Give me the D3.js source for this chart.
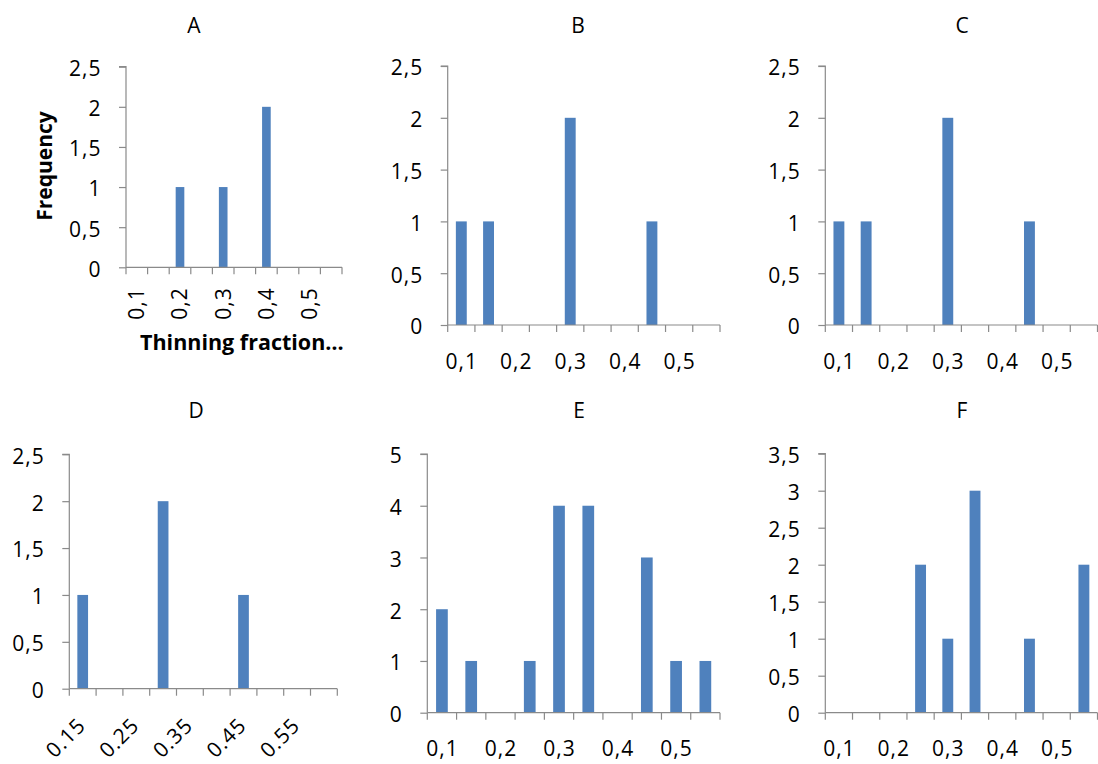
<!DOCTYPE html>
<html>
<head>
<meta charset="utf-8">
<script src="https://cdn.jsdelivr.net/npm/d3@7"></script>
<style>
  html, body { margin: 0; padding: 0; background: #fff; }
  svg { display: block; }
  text { font-family: "Open Sans", "Noto Sans", sans-serif; fill: #000; }
</style>
</head>
<body>
<svg id="chart" width="1098" height="764"></svg>
<script>
// ---------------- data ----------------
const titles = ["A", "B", "C", "D", "E", "F"];
const categoriesComma = ["0,1", "0,15", "0,2", "0,25", "0,3", "0,35", "0,4", "0,45", "0,5", "0,55"];
const categoriesDot = ["0.15", "0.2", "0.25", "0.3", "0.35", "0.4", "0.45", "0.5", "0.55", "0.6"];
const freqA = [0, 0, 1, 0, 1, 0, 2, 0, 0, 0];
const freqB = [1, 1, 0, 0, 2, 0, 0, 1, 0, 0];
const freqC = [1, 1, 0, 0, 2, 0, 0, 1, 0, 0];
const freqD = [1, 0, 0, 2, 0, 0, 1, 0, 0, 0];
const freqE = [2, 1, 0, 1, 4, 4, 0, 3, 1, 1];
const freqF = [0, 0, 0, 2, 1, 3, 0, 1, 0, 2];
const yTicksHalf25 = [0, 0.5, 1, 1.5, 2, 2.5];
const yTicksE = [0, 1, 2, 3, 4, 5];
const yTicksF = [0, 0.5, 1, 1.5, 2, 2.5, 3, 3.5];
const yAxisTitle = "Frequency";
const xAxisTitle = "Thinning fraction\u2026";

// ---------------- layout ----------------
const panels = [
  { title: titles[0], cats: categoriesComma, vals: freqA, yTicks: yTicksHalf25, x0: 126, x1: 342, yB: 267.3, yT: 66.7, tx: 194, ty: 33, lab: "v" },
  { title: titles[1], cats: categoriesComma, vals: freqB, yTicks: yTicksHalf25, x0: 447.7, x1: 720, yB: 325, yT: 66, tx: 578, ty: 33, lab: "h" },
  { title: titles[2], cats: categoriesComma, vals: freqC, yTicks: yTicksHalf25, x0: 825.3, x1: 1097.5, yB: 325, yT: 66, tx: 962, ty: 33, lab: "h" },
  { title: titles[3], cats: categoriesDot, vals: freqD, yTicks: yTicksHalf25, x0: 69.3, x1: 337.3, yB: 688.7, yT: 454.3, tx: 196, ty: 418, lab: "d" },
  { title: titles[4], cats: categoriesComma, vals: freqE, yTicks: yTicksE, x0: 427.3, x1: 720, yB: 712.7, yT: 454, tx: 579, ty: 418, lab: "h" },
  { title: titles[5], cats: categoriesComma, vals: freqF, yTicks: yTicksF, x0: 825.3, x1: 1097.5, yB: 712.7, yT: 453.7, tx: 962, ty: 418, lab: "h" }
];

const svg = d3.select("#chart");
svg.append("rect").attr("width", 1098).attr("height", 764).attr("fill", "#fff");

const axisColor = "#8a8a8a";
const barColor = "#4F81BD";
const fmt = v => String(v).replace(".", ",");
const labelSize = "21px";

panels.forEach(p => {
  const g = svg.append("g");
  const x = d3.scaleBand().domain(p.cats).range([p.x0, p.x1]).paddingInner(0.6).paddingOuter(0.3);
  const yMax = p.yTicks[p.yTicks.length - 1];
  const y = d3.scaleLinear().domain([0, yMax]).range([p.yB, p.yT]);
  const step = x.step();

  // title
  g.append("text").attr("x", p.tx).attr("y", p.ty).attr("text-anchor", "middle")
    .style("font-size", "21px").text(p.title);

  // bars
  g.selectAll("rect.bar").data(p.cats.map((c, i) => ({ c, v: p.vals[i] })).filter(d => d.v > 0))
    .enter().append("rect").attr("class", "bar")
    .attr("x", d => x(d.c)).attr("width", x.bandwidth())
    .attr("y", d => y(d.v)).attr("height", d => y(0) - y(d.v))
    .attr("fill", barColor);

  // y axis
  const ya = d3.axisLeft(y).tickValues(p.yTicks).tickFormat(fmt).tickSize(7).tickPadding(18);
  const yg = g.append("g").attr("transform", `translate(${p.x0},0)`).call(ya);
  yg.select(".domain").attr("stroke", axisColor).attr("stroke-width", 1.2).attr("d", `M-7,${p.yT}H0V${p.yB}`);
  yg.selectAll(".tick line").attr("stroke", axisColor).attr("stroke-width", 1.2);
  yg.selectAll(".tick text").style("font-size", labelSize).style("letter-spacing", "1px")
    .attr("font-family", null).attr("fill", "#000").attr("dy", "0.42em").attr("x", -24.5);

  // x axis line
  g.append("line").attr("x1", p.x0).attr("x2", p.x1).attr("y1", p.yB).attr("y2", p.yB)
    .attr("stroke", axisColor).attr("stroke-width", 1.2);
  // x tick marks at category boundaries
  const bounds = d3.range(p.cats.length + 1).map(i => p.x0 + i * step);
  g.selectAll("line.xt").data(bounds).enter().append("line").attr("class", "xt")
    .attr("x1", d => d).attr("x2", d => d).attr("y1", p.yB).attr("y2", p.yB + 7)
    .attr("stroke", axisColor).attr("stroke-width", 1.2);

  // x labels: every other category
  const shown = p.cats.filter((c, i) => i % 2 === 0);
  const cx = c => x(c) + x.bandwidth() / 2;
  const xl = g.selectAll("text.xl").data(shown).enter().append("text").attr("class", "xl")
    .style("font-size", labelSize).style("letter-spacing", "1px").text(d => d);
  if (p.lab === "h") {
    xl.attr("x", d => cx(d) + 0.5).attr("y", p.yB + 43.5).attr("text-anchor", "middle");
  } else if (p.lab === "v") {
    xl.attr("text-anchor", "end").attr("dy", "0.35em")
      .attr("transform", d => `translate(${cx(d)},${p.yB + 20}) rotate(-90)`);
  } else {
    xl.attr("text-anchor", "end").attr("dy", "0.35em")
      .attr("transform", d => `translate(${cx(d) - 1},${p.yB + 33}) rotate(-45)`);
  }
});

// axis titles for panel A
svg.append("text").attr("text-anchor", "middle").style("font-size", "21px").style("font-weight", "bold")
  .attr("transform", "translate(51.5,166) rotate(-90)").text(yAxisTitle);
svg.append("text").attr("x", 140).attr("y", 350).style("font-size", "21.5px").style("font-weight", "bold")
  .text(xAxisTitle);
</script>
</body>
</html>
